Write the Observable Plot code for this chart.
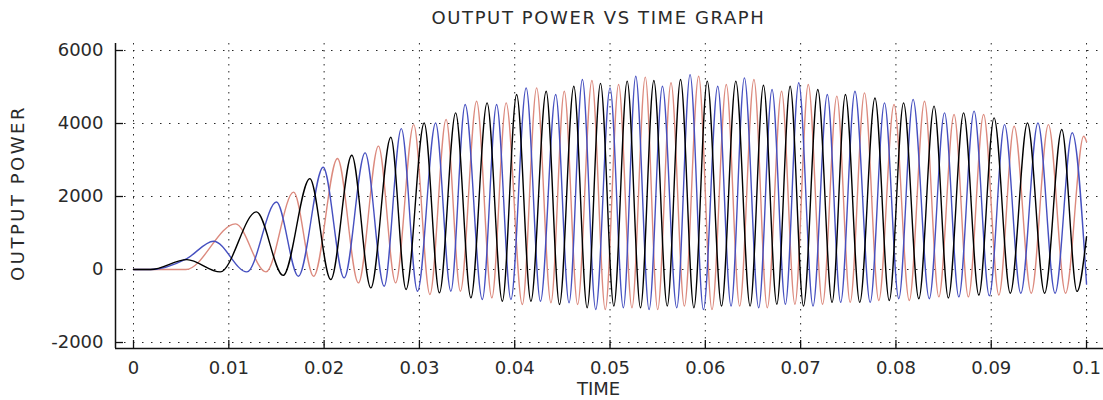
<!DOCTYPE html>
<html><head><meta charset="utf-8">
<script src="https://cdn.jsdelivr.net/npm/d3@7"></script>
<script src="https://cdn.jsdelivr.net/npm/@observablehq/plot@0.6"></script>
<style>body{margin:0;background:#fff;}</style>
</head><body><div id="chart"></div>
<script>
const title = "OUTPUT POWER VS TIME GRAPH";
const xLabel = "TIME";
const yLabel = "OUTPUT POWER";
const xTicks = [0, 0.01, 0.02, 0.03, 0.04, 0.05, 0.06, 0.07, 0.08, 0.09, 0.1];
const yTicks = [-2000, 0, 2000, 4000, 6000];
const xDomain = [-0.00189, 0.10178];
const yDomain = [-2164, 6192];

// [time, power] extrema
const redSeries = [[0,0],[0.0055,0],[0.0107,1250],[0.0139,-66],[0.0168,2120],[0.0189,-183],[0.0214,3040],[0.0236,-367],[0.0257,3380],[0.0275,-367],[0.0294,3970],[0.0311,-685],[0.0328,4110],[0.0343,-595],[0.0360,4610],[0.0376,-777],[0.0391,4565],[0.0408,-959],[0.0423,4975],[0.0438,-914],[0.0452,4885],[0.0466,-959],[0.0481,5180],[0.0495,-1096],[0.0509,5070],[0.0523,-1050],[0.0537,5270],[0.0550,-1100],[0.0564,5115],[0.0578,-1000],[0.0593,5295],[0.0607,-1100],[0.0622,5070],[0.0636,-1000],[0.0651,5205],[0.0665,-1050],[0.0680,4885],[0.0694,-950],[0.0708,5070],[0.0723,-950],[0.0738,4750],[0.0752,-900],[0.0767,4840],[0.0782,-850],[0.0798,4520],[0.0814,-850],[0.0830,4610],[0.0845,-750],[0.0861,4245],[0.0876,-750],[0.0892,4245],[0.0908,-700],[0.0924,3925],[0.0942,-650],[0.0960,3970],[0.0978,-650],[0.0997,3650],[0.1000,3500]];
const blueSeries = [[0,0],[0.0018,0],[0.0056,300],[0.0084,775],[0.0119,-66],[0.0150,1850],[0.0173,-183],[0.0199,2800],[0.0221,-230],[0.0243,3195],[0.0263,-458],[0.0281,3860],[0.0298,-595],[0.0317,4015],[0.0333,-595],[0.0348,4520],[0.0366,-822],[0.0381,4520],[0.0396,-822],[0.0412,4975],[0.0427,-868],[0.0443,4795],[0.0457,-914],[0.0471,5205],[0.0485,-1096],[0.0500,4975],[0.0514,-1050],[0.0527,5295],[0.0541,-1100],[0.0555,5020],[0.0570,-1050],[0.0584,5340],[0.0598,-1100],[0.0613,5020],[0.0627,-1000],[0.0641,5250],[0.0656,-1050],[0.0670,4930],[0.0684,-950],[0.0698,5115],[0.0713,-1000],[0.0728,4795],[0.0742,-900],[0.0757,4885],[0.0773,-900],[0.0788,4565],[0.0803,-800],[0.0818,4660],[0.0835,-800],[0.0851,4290],[0.0866,-750],[0.0882,4340],[0.0898,-720],[0.0914,3970],[0.0931,-650],[0.0949,4015],[0.0967,-650],[0.0985,3745],[0.1000,-400]];
const blackSeries = [[0,0],[0.0018,0],[0.0056,270],[0.0091,-66],[0.0129,1580],[0.0157,-160],[0.0185,2490],[0.0207,-274],[0.0229,3130],[0.0249,-504],[0.0270,3625],[0.0286,-548],[0.0305,4015],[0.0321,-640],[0.0338,4290],[0.0354,-777],[0.0371,4565],[0.0387,-868],[0.0402,4795],[0.0417,-868],[0.0433,4885],[0.0447,-959],[0.0462,5020],[0.0476,-1050],[0.0490,5100],[0.0504,-1000],[0.0518,5160],[0.0532,-1050],[0.0546,5180],[0.0560,-1000],[0.0574,5205],[0.0588,-1050],[0.0602,5160],[0.0617,-1000],[0.0632,5160],[0.0647,-1000],[0.0661,5050],[0.0675,-950],[0.0689,5020],[0.0703,-1000],[0.0718,4930],[0.0733,-900],[0.0747,4795],[0.0762,-900],[0.0778,4700],[0.0793,-850],[0.0808,4565],[0.0824,-800],[0.0840,4475],[0.0855,-780],[0.0871,4290],[0.0887,-700],[0.0903,4155],[0.0920,-650],[0.0938,4015],[0.0956,-650],[0.0974,3835],[0.0990,-600],[0.1000,900]];
const seriesNames = ["Phase A", "Phase B", "Phase C"];
const seriesColors = ["#dc8a7e", "#4650c0", "#000000"];

const rows = [redSeries, blueSeries, blackSeries].flatMap((s, i) =>
  s.map(([t, p]) => ({t, p, s: seriesNames[i]})));

const W = 1103, H = 400, mL = 115, mR = 0, mT = 43, mB = 52;

const chart = Plot.plot({
  width: W, height: H,
  marginLeft: mL, marginRight: mR, marginTop: mT, marginBottom: mB,
  style: {fontFamily: "DejaVu Sans", fontSize: "18px", color: "#2a2a2a", background: "#fff"},
  x: {domain: xDomain},
  y: {domain: yDomain},
  color: {type: "ordinal", domain: seriesNames, range: seriesColors},
  marks: [
    Plot.gridX(xTicks, {stroke: "#111", strokeOpacity: 0.9, strokeDasharray: "1.5,5.5"}),
    Plot.gridY(yTicks, {stroke: "#111", strokeOpacity: 0.9, strokeDasharray: "1.5,7.5"}),
    Plot.line(rows, {x: "t", y: "p", z: "s", stroke: "s", curve: "monotone-x", strokeWidth: 1.4}),
    Plot.ruleX([xDomain[0]], {stroke: "#111", strokeWidth: 1.5}),
    Plot.ruleY([yDomain[0]], {stroke: "#111", strokeWidth: 1.5}),
    Plot.tickY(yTicks, {y: d => d, stroke: "#111", strokeWidth: 1.3, insetRight: (W - mL - mR) - 8}),
    Plot.tickX(xTicks, {x: d => d, stroke: "#111", strokeWidth: 1.3, insetTop: (H - mT - mB) - 8}),
    Plot.axisY(yTicks, {tickSize: 0, tickPadding: 12, tickFormat: d => String(d), label: null}),
    Plot.axisX(xTicks, {tickSize: 0, tickPadding: 13, tickFormat: d => String(d), label: null}),
    Plot.text([title], {frameAnchor: "top", textAnchor: "middle", lineAnchor: "middle", dx: -11, dy: -25}),
    Plot.text([xLabel], {frameAnchor: "bottom", textAnchor: "middle", lineAnchor: "middle", dx: -11, dy: 41}),
    Plot.text([yLabel], {frameAnchor: "left", textAnchor: "middle", lineAnchor: "middle", rotate: -90, dx: -97, dy: -3})
  ]
});
document.getElementById("chart").appendChild(chart);
d3.select(chart).selectAll("text").filter(function(){ return this.textContent === title; }).style("letter-spacing", "1.6px");
d3.select(chart).selectAll("text").filter(function(){ return this.textContent === yLabel; }).style("letter-spacing", "2.5px");
</script>
</body></html>
